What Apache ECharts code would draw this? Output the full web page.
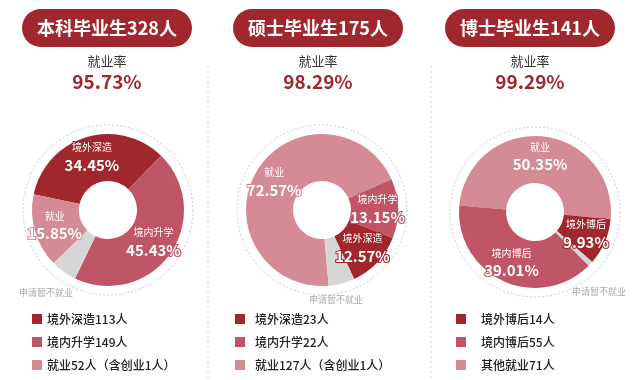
<!DOCTYPE html>
<html><head><meta charset="utf-8">
<script src="https://cdn.jsdelivr.net/npm/echarts@6/dist/echarts.min.js"></script>
<style>html,body{margin:0;padding:0;background:#fff}#c{width:640px;height:380px}</style>
</head><body><div id="c"></div>
<script>
// ---- data ----
const panelTitles = ['本科毕业生328人', '硕士毕业生175人', '博士毕业生141人'];
const rateTitle = '就业率';
const rates = ['95.73%', '98.29%', '99.29%'];
const grayName = '申请暂不就业';

const pie1Names = ['境外深造', '境内升学', '申请暂不就业', '就业'];
const pie1Values = [34.45, 45.43, 4.27, 15.85];
const pie2Names = ['就业', '境内升学', '境外深造', '申请暂不就业'];
const pie2Values = [72.57, 13.15, 12.57, 1.71];
const pie3Names = ['就业', '境外博后', '申请暂不就业', '境内博后'];
const pie3Values = [50.35, 9.93, 0.71, 39.01];

const legend1Names = ['境外深造', '境内升学', '就业'];
const legend1Text = ['境外深造113人', '境内升学149人', '就业52人（含创业1人）'];
const legend2Names = ['境外深造', '境内升学', '就业'];
const legend2Text = ['境外深造23人', '境内升学22人', '就业127人（含创业1人）'];
const legend3Names = ['境外博后', '境内博后', '就业'];
const legend3Text = ['境外博后14人', '境内博后55人', '其他就业71人'];

// ---- style ----
const FONT = '"Noto Sans CJK SC", "Noto Sans", sans-serif';
const RED = '#a1272e';
const colorMap = {
  '境外深造': '#a1272e', '境外博后': '#a1272e',
  '境内升学': '#c05565', '境内博后': '#c05565',
  '就业': '#d48b93', '申请暂不就业': '#d6d6d6'
};
const panelX = [107, 318, 530];
const pieCenters = [[108, 210], [322, 210], [535, 212]];
const startAngles = [168, 275, 175];
const minAngles = [20, 20, 4];
const grayLabelPos = [[46, 293], [336, 300], [599, 292]];
const legendLeft = [32, 235, 456];
const legendPad = [0, 5, 10];

const chart = echarts.init(document.getElementById('c'), null, {renderer: 'canvas'});

function pieSeries(i, names, values) {
  return {
    type: 'pie',
    center: pieCenters[i],
    radius: [29, 76],
    startAngle: startAngles[i],
    minAngle: minAngles[i],
    clockwise: true,
    avoidLabelOverlap: false,
    animation: false,
    silent: true,
    labelLine: {show: false},
    label: {
      show: true,
      position: 'inside',
      formatter: p => '{n|' + p.name + '}\n{p|' + p.value.toFixed(2) + '%}'
    },
    data: names.map((n, k) => ({
      name: n,
      value: values[k],
      itemStyle: {color: colorMap[n]},
      label: n === grayName ? {show: false} : {
        textBorderColor: colorMap[n], textBorderWidth: 2,
        rich: {
          n: {fontSize: 10, color: '#fff', fontFamily: FONT, lineHeight: 16, textBorderColor: colorMap[n], textBorderWidth: 2},
          p: {fontSize: 15, fontWeight: 'bold', color: '#fff', fontFamily: FONT, lineHeight: 19, textBorderColor: colorMap[n], textBorderWidth: 2}
        }
      }
    }))
  };
}

function legendOf(i, names, texts) {
  return {
    orient: 'vertical',
    left: legendLeft[i],
    top: 312,
    padding: 0,
    itemGap: 9,
    itemWidth: 10,
    itemHeight: 10,
    icon: 'rect',
    selectedMode: false,
    data: names,
    formatter: n => texts[names.indexOf(n)],
    textStyle: {fontSize: 12, fontWeight: 500, color: '#222', fontFamily: FONT, lineHeight: 14, padding: [0, 0, 0, legendPad[i]]}
  };
}

const graphic = [];
panelTitles.forEach((t, i) => {
  graphic.push({type: 'rect', shape: {x: panelX[i] - 85, y: 9, width: 170, height: 38, r: 19}, style: {fill: RED}, silent: true});
  graphic.push({type: 'text', x: panelX[i], y: 28, style: {text: t, fill: '#fff', font: 'bold 18px ' + FONT, textAlign: 'center', textVerticalAlign: 'middle'}, silent: true});
  graphic.push({type: 'text', x: panelX[i], y: 61, style: {text: rateTitle, fill: '#333', font: '13px ' + FONT, textAlign: 'center', textVerticalAlign: 'middle'}, silent: true});
  graphic.push({type: 'text', x: panelX[i], y: 82, style: {text: rates[i], fill: RED, font: 'bold 19px ' + FONT, textAlign: 'center', textVerticalAlign: 'middle'}, silent: true});
  graphic.push({type: 'circle', shape: {cx: pieCenters[i][0], cy: pieCenters[i][1], r: 85}, style: {fill: 'none', stroke: '#b9ced8', lineWidth: 1, lineDash: [2, 2]}, silent: true, z: -1});
  graphic.push({type: 'text', x: grayLabelPos[i][0], y: grayLabelPos[i][1], style: {text: grayName, fill: '#aaaaaa', font: '9px ' + FONT, textAlign: 'center', textVerticalAlign: 'middle'}, silent: true});
});
[208, 431].forEach(x => {
  graphic.push({type: 'line', shape: {x1: x, y1: 66, x2: x, y2: 380}, style: {stroke: '#cfcfcf', lineWidth: 1, lineDash: [2, 3]}, silent: true});
});

chart.setOption({
  backgroundColor: '#fff',
  animation: false,
  graphic: graphic,
  legend: [legendOf(0, legend1Names, legend1Text), legendOf(1, legend2Names, legend2Text), legendOf(2, legend3Names, legend3Text)],
  series: [pieSeries(0, pie1Names, pie1Values), pieSeries(1, pie2Names, pie2Values), pieSeries(2, pie3Names, pie3Values)]
});
</script>
</body></html>
